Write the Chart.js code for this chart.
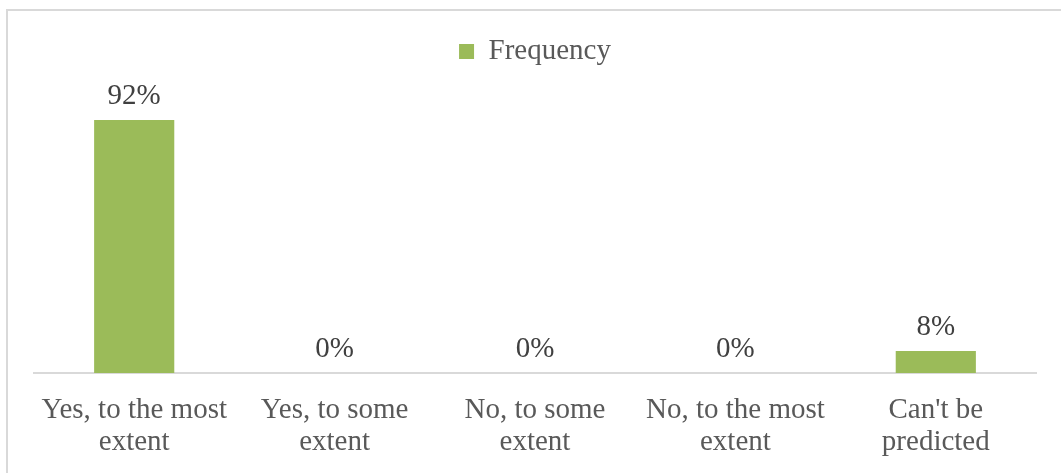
<!DOCTYPE html>
<html>
<head>
<meta charset="utf-8">
<script src="https://cdn.jsdelivr.net/npm/chart.js@4.4.1/dist/chart.umd.min.js"></script>
<style>
  html, body { margin: 0; padding: 0; background: #ffffff; }
  #wrap { position: relative; width: 1061px; height: 473px; }
</style>
</head>
<body>
<div id="wrap"><canvas id="c" width="1061" height="473"></canvas></div>
<script>
const categories = [
  ["Yes, to the most", "extent"],
  ["Yes, to some", "extent"],
  ["No, to some", "extent"],
  ["No, to the most", "extent"],
  ["Can't be", "predicted"]
];
const frequency = [92, 0, 0, 0, 8];
const seriesName = "Frequency";

const FONT = "'Liberation Serif', 'Times New Roman', serif";
const TEXT = "#595959";
const GREEN = "#9BBB59";
const LINE = "#D9D9D9";

// Outer frame of the chart (open on the right and bottom edges)
const framePlugin = {
  id: 'frame',
  beforeDraw(chart) {
    const ctx = chart.ctx;
    ctx.save();
    ctx.strokeStyle = LINE;
    ctx.lineWidth = 2;
    ctx.beginPath();
    ctx.moveTo(7, chart.height + 2);
    ctx.lineTo(7, 10);
    ctx.lineTo(chart.width + 2, 10);
    ctx.stroke();
    ctx.restore();
  }
};

// Percentage labels above each bar
const valueLabels = {
  id: 'valueLabels',
  afterDatasetsDraw(chart) {
    const ctx = chart.ctx;
    const meta = chart.getDatasetMeta(0);
    ctx.save();
    ctx.font = "29px " + FONT;
    ctx.fillStyle = "#404040";
    ctx.textAlign = 'center';
    ctx.textBaseline = 'alphabetic';
    meta.data.forEach((bar, i) => {
      const v = chart.data.datasets[0].data[i];
      ctx.fillText(v + "%", bar.x, bar.y - 16);
    });
    ctx.restore();
  }
};

new Chart(document.getElementById('c'), {
  type: 'bar',
  data: {
    labels: categories,
    datasets: [{
      label: seriesName,
      data: frequency,
      backgroundColor: GREEN,
      borderWidth: 0,
      categoryPercentage: 1,
      barPercentage: 0.4
    }]
  },
  options: {
    responsive: false,
    animation: false,
    layout: { padding: { left: 34, right: 25, top: 31, bottom: 0 } },
    plugins: {
      legend: {
        display: true,
        position: 'top',
        labels: {
          font: { family: FONT, size: 29 },
          color: TEXT,
          boxWidth: 15,
          boxHeight: 15,
          padding: 6
        }
      },
      tooltip: { enabled: false }
    },
    scales: {
      x: {
        grid: { display: false },
        border: { display: true, color: LINE, width: 2 },
        afterFit(scale) { scale.height = 100; },
        ticks: {
          font: { family: FONT, size: 29, lineHeight: 1.12 },
          color: TEXT,
          padding: 13,
          maxRotation: 0,
          autoSkip: false
        }
      },
      y: {
        display: false,
        min: 0,
        max: 108
      }
    }
  },
  plugins: [framePlugin, valueLabels]
});
</script>
</body>
</html>
